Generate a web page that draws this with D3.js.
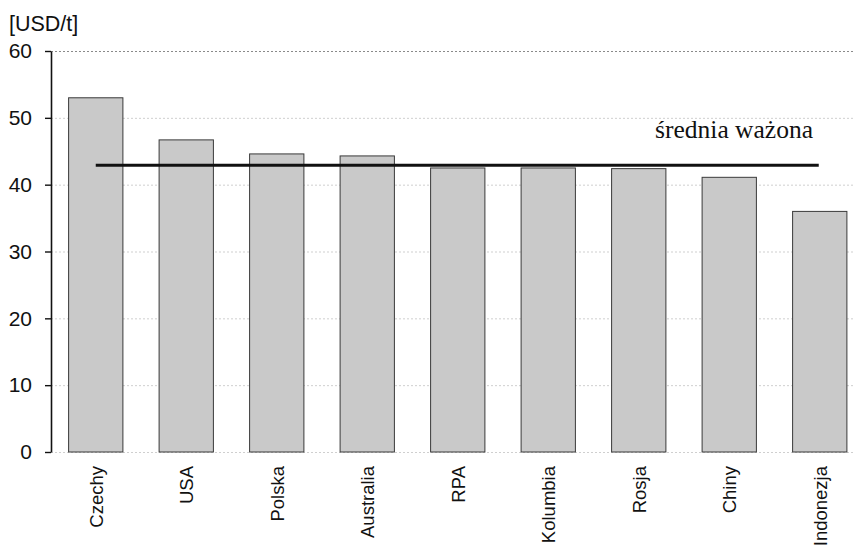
<!DOCTYPE html>
<html>
<head>
<meta charset="utf-8">
<script src="https://cdn.jsdelivr.net/npm/d3@7"></script>
<style>
  html, body { margin: 0; padding: 0; background: #fff; }
  svg { display: block; }
</style>
</head>
<body>
<svg id="chart" width="855" height="546"></svg>
<script>
// Coal price by producer country [USD/t]
const countries = ["Czechy", "USA", "Polska", "Australia", "RPA", "Kolumbia", "Rosja", "Chiny", "Indonezja"];
const prices = [53.0, 46.7, 44.6, 44.3, 42.5, 42.5, 42.4, 41.1, 36.0];
const weightedAverage = 42.9;
const averageLabel = "średnia ważona";
const unitLabel = "[USD/t]";
const yTicks = [0, 10, 20, 30, 40, 50, 60];

const svg = d3.select("#chart");

const x = d3.scaleBand()
  .domain(countries)
  .range([50.5, 865])
  .paddingInner(0.4)
  .paddingOuter(0.2);

const y = d3.scaleLinear()
  .domain([0, 60])
  .range([452, 51]);

// faint dotted horizontal gridlines
svg.append("g")
  .selectAll("line")
  .data(yTicks)
  .join("line")
  .attr("x1", 51)
  .attr("x2", 855)
  .attr("y1", d => y(d) + 0.5)
  .attr("y2", d => y(d) + 0.5)
  .attr("stroke", d => d === 60 ? "#8a8a8a" : "#cfcfcf")
  .attr("stroke-width", 1)
  .attr("stroke-dasharray", "2,2");

// bars
svg.append("g")
  .selectAll("rect")
  .data(countries.map((c, i) => ({ c, v: prices[i] })))
  .join("rect")
  .attr("x", d => x(d.c))
  .attr("y", d => y(d.v))
  .attr("width", x.bandwidth())
  .attr("height", d => y(0) - y(d.v))
  .attr("fill", "#c9c9c9")
  .attr("stroke", "#3a3a3a")
  .attr("stroke-width", 1);

// y axis
const yAxis = d3.axisLeft(y)
  .tickValues(yTicks)
  .tickSize(6)
  .tickSizeOuter(0)
  .tickPadding(13);

const gy = svg.append("g")
  .attr("transform", "translate(51,0)")
  .call(yAxis);
gy.select(".domain").attr("stroke", "#111").attr("stroke-width", 1.6);
gy.selectAll(".tick line").attr("stroke", "#111").attr("stroke-width", 1.4);
gy.selectAll(".tick text")
  .attr("font-family", "Liberation Sans, Arial, sans-serif")
  .attr("font-size", 21)
  .attr("fill", "#111");

// unit label
svg.append("text")
  .attr("x", 9)
  .attr("y", 31)
  .attr("font-family", "Liberation Sans, Arial, sans-serif")
  .attr("font-size", 21.5)
  .attr("fill", "#111")
  .text(unitLabel);

// category labels, rotated
svg.append("g")
  .selectAll("text")
  .data(countries)
  .join("text")
  .attr("transform", d => `translate(${x(d) + x.bandwidth() / 2 + 7},466) rotate(-90)`)
  .attr("text-anchor", "end")
  .attr("font-family", "Liberation Sans, Arial, sans-serif")
  .attr("font-size", 18.5)
  .attr("fill", "#111")
  .text(d => d);

// weighted average line
const first = countries[0], last = countries[countries.length - 1];
svg.append("line")
  .attr("x1", x(first) + x.bandwidth() / 2)
  .attr("x2", x(last) + x.bandwidth() / 2 - 1)
  .attr("y1", y(weightedAverage))
  .attr("y2", y(weightedAverage))
  .attr("stroke", "#111")
  .attr("stroke-width", 3);

svg.append("text")
  .attr("x", 813)
  .attr("y", 138)
  .attr("text-anchor", "end")
  .attr("font-family", "Liberation Serif, Times New Roman, serif")
  .attr("font-size", 25.5)
  .attr("fill", "#111")
  .text(averageLabel);
</script>
</body>
</html>
